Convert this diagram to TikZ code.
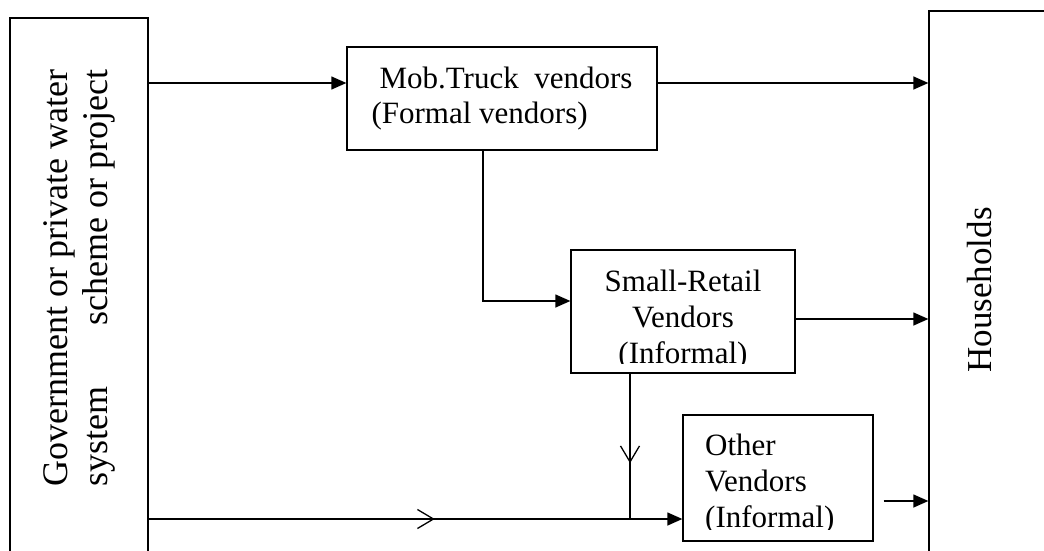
\documentclass[tikz,border=0pt]{standalone}
\usepackage{fontspec}
\setmainfont{Liberation Serif}
\usetikzlibrary{arrows.meta,decorations.markings,calc}
\begin{document}
\begin{tikzpicture}[x=1pt,y=-1pt,
  box/.style={draw,line width=1.3pt,inner sep=0pt},
  arr/.style={line width=1.3pt,-{Triangle[length=15pt,width=13pt]}},
  ln/.style={line width=1.3pt},
  boxtext/.style={font=\fontsize{31}{36}\selectfont,inner sep=0pt},
  bigtext/.style={font=\fontsize{36}{40}\selectfont,inner sep=0pt,rotate=90},
  openmid/.style={postaction={decorate},decoration={markings,mark=at position #1 with {\arrow[line width=1.3pt]{Straight Barb[length=16pt,width=19pt]}}}}
]
\useasboundingbox (0,0) rectangle (1044,551);
\clip (0,0) rectangle (1044,551);

% boxes
\node[box,minimum width=138pt,minimum height=700pt] (gov) at (79,368) {};
\node[bigtext] (govt) at (79,278) {\begin{tabular}{@{}l@{}}Government or private water\\system\hfill scheme or project\end{tabular}};

\node[box,minimum width=200pt,minimum height=700pt] (hh) at (1029,361) {};
\node[bigtext,font=\fontsize{35}{40}\selectfont] (hht) at (980,290) {Households};

\node[box,minimum width=310pt,minimum height=103pt,boxtext,font=\fontsize{31}{35}\selectfont,align=left] (mob) at (502,98.5) {\hspace*{8pt}Mob.Truck\ \ vendors\\(Formal vendors)};

\node[box,minimum width=224pt,minimum height=123pt] (sr) at (683,311.5) {};
\begin{scope}
  \clip (571,250) rectangle (795,363);
  \node[boxtext,align=center] (srt) at (683,320) {Small-Retail\\Vendors\\(Informal)};
\end{scope}

\node[box,minimum width=190pt,minimum height=126pt] (oth) at (778,478) {};
\begin{scope}
  \clip (683,415) rectangle (873,529);
  \node[boxtext,align=left,anchor=west] (otht) at (705,484) {Other\\Vendors\\(Informal)};
\end{scope}

% connectors
\draw[arr] (gov.east |- 0,83) -- (mob.west |- 0,83);
\draw[arr] (mob.east |- 0,83) -- (hh.west |- 0,83);
\draw[arr] ([xshift=-19pt]mob.south) |- ([yshift=10.5pt]sr.west);
\draw[arr] (sr.east |- 0,319) -- (hh.west |- 0,319);
\coordinate (j) at (630,519);
\draw[ln,openmid=0.616] ([xshift=-53pt]sr.south) -- (j);
\draw[arr,openmid=0.536] (gov.east |- 0,519) -- (oth.west |- 0,519);
\draw[arr] ($(oth.east |- 0,501)+(10,0)$) -- (hh.west |- 0,501);
\end{tikzpicture}
\end{document}
